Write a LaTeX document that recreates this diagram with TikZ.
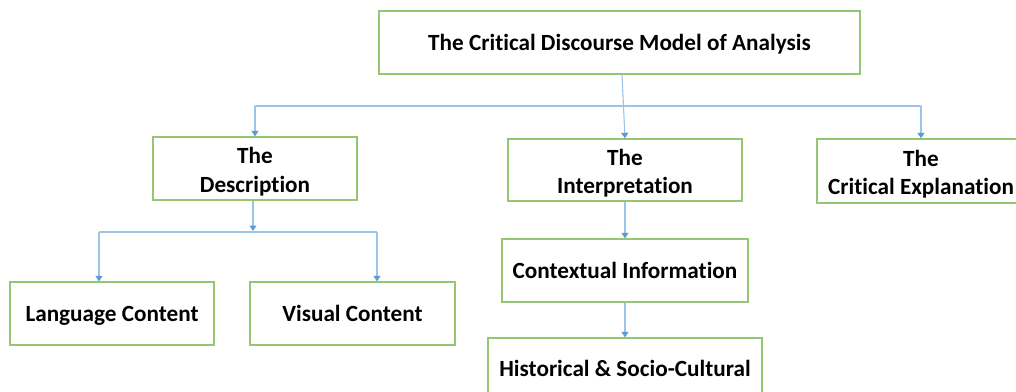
\documentclass[tikz,border=0pt]{standalone}
\usepackage{fontspec}
\setmainfont[Ligatures=NoCommon]{Carlito}
\usetikzlibrary{arrows.meta}
\definecolor{boxgreen}{HTML}{94C673}
\definecolor{linkblue}{HTML}{9DC3E6}
\definecolor{tipblue}{HTML}{5B9BD5}
\begin{document}
\begin{tikzpicture}[x=1pt,y=-1pt,
  box/.style={draw=boxgreen,line width=1.4pt,align=center,inner sep=0pt,
    font=\fontsize{23.2}{28.5}\selectfont\bfseries,text=black},
  oneline/.style={box,text height=18pt,text depth=2pt},
  twoline/.style={box,text height=48pt,text depth=1pt},
  link/.style={draw=linkblue,line width=1.1pt},
  arrowlink/.style={link,-{Triangle[width=7pt,length=5.5pt,fill=tipblue,color=tipblue]}}]
\useasboundingbox (0,0) rectangle (1016,391);
\clip (0,0) rectangle (1016,391);
\fill[white] (0,0) rectangle (1016,391);

% boxes
\node[oneline,minimum width=481pt,minimum height=63pt] (top) at (619.5,42.5) {The Critical Discourse Model of Analysis};
\node[twoline,minimum width=204pt,minimum height=63pt] (desc) at (255,168.5) {The\\Description};
\node[twoline,minimum width=234pt,minimum height=62pt] (interp) at (625,170) {The\\Interpretation};
\node[twoline,minimum width=208pt,minimum height=64pt] (crit) at (921,171) {The\\Critical Explanation};
\node[oneline,minimum width=204pt,minimum height=63pt] (lang) at (112,313.5) {Language Content};
\node[oneline,minimum width=205pt,minimum height=63pt] (vis) at (352.5,313.5) {Visual Content};
\node[oneline,minimum width=246pt,minimum height=63pt] (ctx) at (625,270.5) {Contextual Information};
\node[oneline,minimum width=274pt,minimum height=60pt] (hist) at (625,368) {Historical \& Socio-Cultural};

% first level: bus below the title box
\coordinate (bar) at (0,106);
\draw[link] (desc.north |- bar) -- (crit.north |- bar);
\draw[arrowlink] (desc.north |- bar) -- (desc.north);
\draw[arrowlink] (crit.north |- bar) -- (crit.north);
\draw[arrowlink] (top.south -| 622,0) -- (interp.north);

% second level under the description
\coordinate (bl) at (99,232);
\coordinate (br) at (377,232);
\draw[arrowlink] (desc.south -| 253,0) -- (253,231);
\draw[link] (bl) -- (br);
\draw[arrowlink] (bl) -- (bl |- lang.north);
\draw[arrowlink] (br) -- (br |- vis.north);

% chain under the interpretation
\draw[arrowlink] (interp.south) -- (ctx.north);
\draw[arrowlink] (ctx.south) -- (hist.north);
\end{tikzpicture}
\end{document}
